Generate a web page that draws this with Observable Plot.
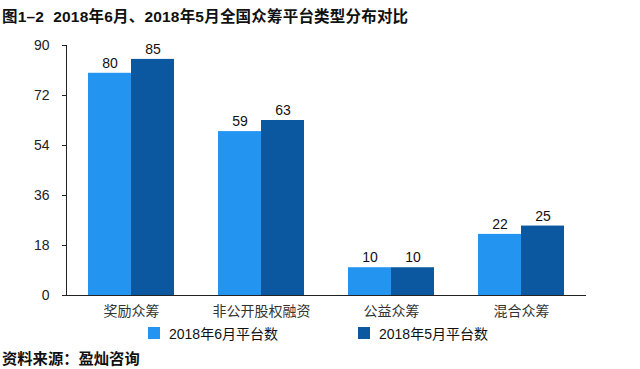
<!DOCTYPE html>
<html>
<head>
<meta charset="utf-8">
<script src="https://cdn.jsdelivr.net/npm/d3@7"></script>
<script src="https://cdn.jsdelivr.net/npm/@observablehq/plot@0.6"></script>
<style>
  html, body { margin: 0; padding: 0; background: #fff; }
  body { width: 640px; height: 369px; position: relative; overflow: hidden;
         font-family: "Liberation Sans", "Noto Sans CJK SC", sans-serif; color: #111; }
  #title { position: absolute; left: 2px; top: 4px; font-size: 15.5px; font-weight: bold; letter-spacing: 0.2px; white-space: nowrap; }
  #chart { position: absolute; left: 0; top: 28px; }
  #legend { position: absolute; top: 323px; left: 0; width: 640px; height: 18px; font-size: 14px; }
  .li { position: absolute; top: 0; display: flex; align-items: center; }
  .sw { width: 12px; height: 12px; margin-right: 9px; }
  #caption { position: absolute; left: 2px; top: 346px; font-size: 15.3px; font-weight: bold; white-space: nowrap; }
</style>
</head>
<body>
<div id="title">图1–2&nbsp;&nbsp;2018年6月、2018年5月全国众筹平台类型分布对比</div>
<div id="chart"></div>
<div id="legend"></div>
<div id="caption">资料来源：盈灿咨询</div>
<script>
const categories = ["奖励众筹", "非公开股权融资", "公益众筹", "混合众筹"];
const june = [80, 59, 10, 22];
const may = [85, 63, 10, 25];
const seriesNames = ["2018年6月平台数", "2018年5月平台数"];
const seriesColors = ["#2394F0", "#0B58A0"];
const yTicks = [0, 18, 36, 54, 72, 90];

const juneRows = categories.map((c, i) => ({cat: c, series: seriesNames[0], value: june[i]}));
const mayRows = categories.map((c, i) => ({cat: c, series: seriesNames[1], value: may[i]}));

const font = '"Liberation Sans", "Noto Sans CJK SC", sans-serif';
const plot = Plot.plot({
  width: 640,
  height: 292,
  marginLeft: 66,
  marginRight: 54,
  marginTop: 17,
  marginBottom: 25,
  style: {fontFamily: font, background: "#fff", overflow: "visible"},
  x: {domain: categories, paddingInner: 0.338, paddingOuter: 0.169, label: null},
  y: {domain: [0, 90], label: null},
  color: {domain: seriesNames, range: seriesColors},
  marks: [
    Plot.barY(juneRows, {x: "cat", y: "value", fill: "series", insetRight: 43}),
    Plot.barY(mayRows, {x: "cat", y: "value", fill: "series", insetLeft: 43}),
    Plot.text(juneRows, {x: "cat", y: "value", text: d => String(d.value), dx: -21.5, dy: -10, fontSize: 14, fill: "#111"}),
    Plot.text(mayRows, {x: "cat", y: "value", text: d => String(d.value), dx: 21.5, dy: -10, fontSize: 14, fill: "#111"}),
    Plot.axisX({tickSize: 0, tickPadding: 11, fontSize: 14, color: "#333", label: null}),
    Plot.axisY({ticks: yTicks, tickSize: 4, tickPadding: 13, fontSize: 14, label: null, color: "#222"}),
    Plot.ruleY([0], {stroke: "#222", strokeWidth: 1}),
    Plot.frame({anchor: "left", stroke: "#222"})
  ]
});
document.getElementById("chart").appendChild(plot);

const lg = document.getElementById("legend");
const lefts = [148, 358];
seriesNames.forEach((n, i) => {
  const d = document.createElement("div");
  d.className = "li";
  d.style.left = lefts[i] + "px";
  d.innerHTML = `<span class="sw" style="background:${seriesColors[i]}"></span><span>${n}</span>`;
  lg.appendChild(d);
});
</script>
</body>
</html>
